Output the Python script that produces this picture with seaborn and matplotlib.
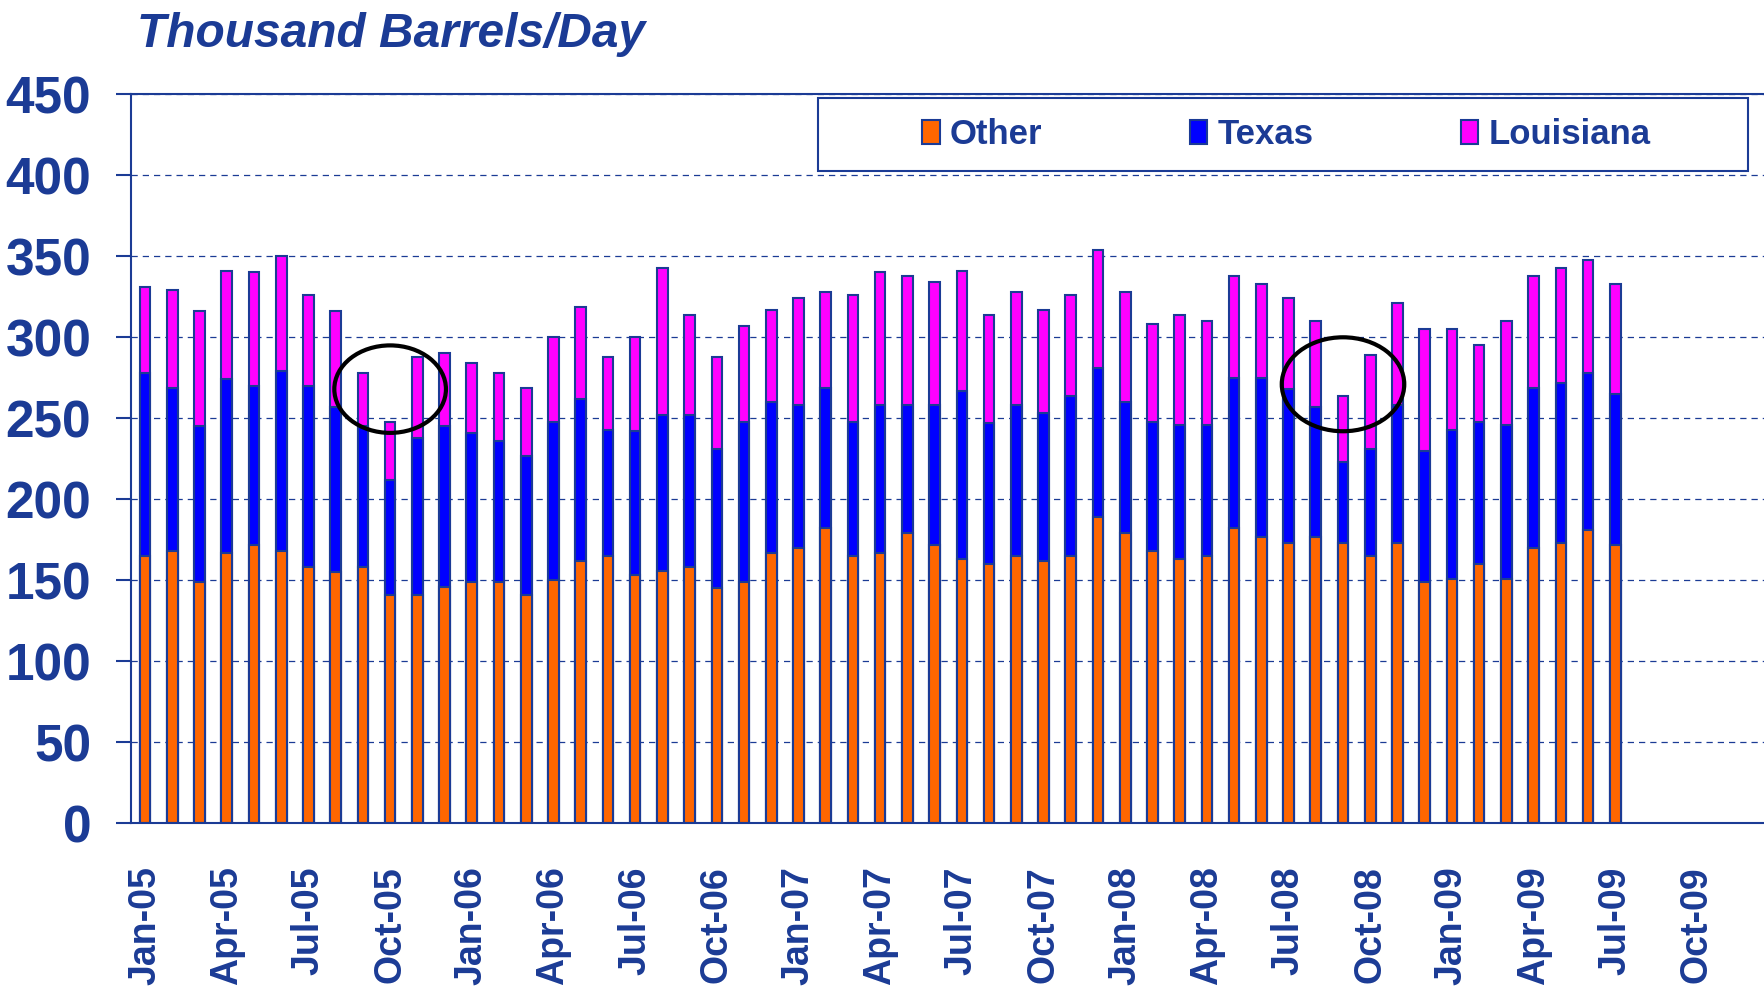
import numpy as np
import matplotlib
matplotlib.use("Agg")
import matplotlib.pyplot as plt
from matplotlib.patches import Ellipse, Patch, Rectangle
import seaborn as sns
import pandas as pd

# monthly categories Jan-05 .. Dec-09 (data runs to Jul-09)
MONTHS = list(pd.date_range("2005-01-01", "2009-12-01", freq="MS").strftime("%b-%y"))
TICK_MONTHS = MONTHS[::3]

OTHER = [165, 168, 149, 167, 172, 168, 158, 155, 158, 141, 141, 146,
         149, 149, 141, 150, 162, 165, 153, 156, 158, 145, 149, 167,
         170, 182, 165, 167, 179, 172, 163, 160, 165, 162, 165, 189,
         179, 168, 163, 165, 182, 177, 173, 177, 173, 165, 173, 149,
         151, 160, 151, 170, 173, 181, 172]
TEXAS = [113, 101, 96, 107, 98, 111, 112, 102, 87, 71, 97, 99,
         92, 87, 86, 98, 100, 78, 89, 96, 94, 86, 99, 93,
         88, 87, 83, 91, 79, 86, 104, 87, 93, 91, 99, 92,
         81, 80, 83, 81, 93, 98, 95, 80, 50, 66, 85, 81,
         92, 88, 95, 99, 99, 97, 93]
LOUISIANA = [53, 60, 71, 67, 70, 71, 56, 59, 33, 36, 50, 45,
             43, 42, 42, 52, 57, 45, 58, 91, 62, 57, 59, 57,
             66, 59, 78, 82, 80, 76, 74, 67, 70, 64, 62, 73,
             68, 60, 68, 64, 63, 58, 56, 53, 41, 58, 63, 75,
             62, 47, 64, 69, 71, 70, 68]

SERIES = ["Other", "Texas", "Louisiana"]
COLORS = {"Other": "#FF6600", "Texas": "#0000FF", "Louisiana": "#FF00FF"}
NAVY = "#1B3B95"

# circled months: (month, centre value, width in months, height in kb/d)
HIGHLIGHTS = [("Oct-05", 268, 4.1, 54), ("Sep-08", 271, 4.5, 58)]

FONT = ["Liberation Sans", "DejaVu Sans"]


def main():
    sns.set_style("white")
    plt.rcParams["font.family"] = FONT
    plt.rcParams["font.weight"] = "bold"

    df = pd.DataFrame({"month": MONTHS[:len(OTHER)], "Other": OTHER,
                       "Texas": TEXAS, "Louisiana": LOUISIANA})
    df["texas_top"] = df["Other"] + df["Texas"]
    df["total"] = df["texas_top"] + df["Louisiana"]

    fig = plt.figure(figsize=(17.65, 9.99), dpi=100)
    ax = fig.add_axes([0.0745, 0.1759, 0.9255, 0.7297])

    for col, series in [("total", "Louisiana"), ("texas_top", "Texas"), ("Other", "Other")]:
        sns.barplot(data=df, x="month", y=col, order=MONTHS, color=COLORS[series],
                    width=0.39, saturation=1, edgecolor=NAVY, linewidth=1.5,
                    errorbar=None, ax=ax)

    for month, yc, w, h in HIGHLIGHTS:
        ax.add_patch(Ellipse((MONTHS.index(month), yc), w, h, fill=False,
                             edgecolor="black", lw=3, zorder=6))

    ax.set_xlim(-0.5, 59.03)
    ax.set_ylim(0, 450)
    ax.set_yticks(range(0, 451, 50))
    ax.set_xlabel("")
    ax.set_ylabel("")
    ax.set_axisbelow(True)
    ax.yaxis.grid(True, color=NAVY, linestyle=(0, (5, 4)), lw=0.9)

    ax.set_xticks(range(0, len(MONTHS), 3))
    ax.set_xticklabels(TICK_MONTHS, rotation=90)
    ax.set_xticks(np.arange(-0.5, len(MONTHS), 3), minor=True)
    ax.tick_params(axis="x", which="major", length=0, pad=31,
                   labelsize=27, labelcolor=NAVY)
    ax.tick_params(axis="x", which="minor", length=9.5, width=1.5,
                   color=NAVY, direction="out")
    ax.tick_params(axis="y", length=11, width=1.5, color=NAVY, direction="out",
                   pad=18, labelsize=37, labelcolor=NAVY, left=True)

    for side in ["left", "bottom", "top"]:
        ax.spines[side].set_color(NAVY)
        ax.spines[side].set_linewidth(1.5)
    ax.spines["right"].set_visible(False)

    ax.add_patch(Rectangle((0.42, 0.895), 0.5696, 0.1, transform=ax.transAxes,
                           facecolor="white", edgecolor=NAVY, lw=1.5, zorder=4))
    handles = [Patch(facecolor=COLORS[s], edgecolor=NAVY, lw=1.5, label=s) for s in SERIES]
    leg = ax.legend(handles=handles, ncol=3, mode="expand", loc="center",
                    bbox_to_anchor=(0.4735, 0.895, 0.467, 0.1), frameon=False,
                    borderpad=0, handlelength=0.5, handleheight=0.7,
                    handletextpad=0.3, prop={"family": FONT, "weight": "bold", "size": 25},
                    labelcolor=NAVY)
    leg.set_zorder(5)

    fig.text(0.0776, 0.953, "Thousand Barrels/Day", fontsize=34.5, fontweight="bold",
             fontstyle="italic", color=NAVY, family=FONT)

    fig.savefig("out.png", dpi=100)
    plt.close(fig)


if __name__ == "__main__":
    main()
